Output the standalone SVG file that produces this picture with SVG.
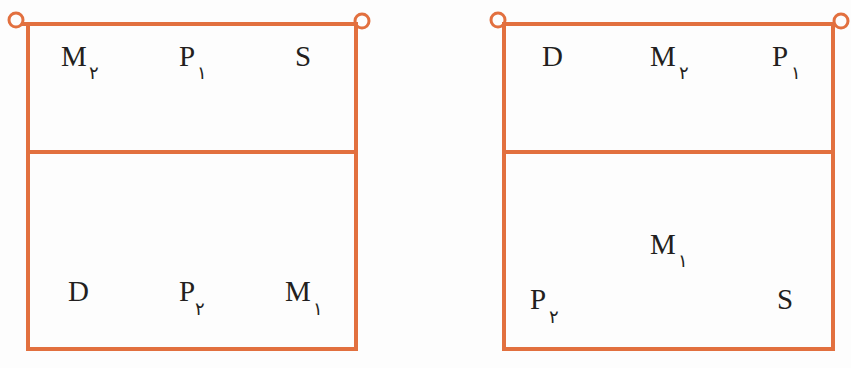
<svg xmlns="http://www.w3.org/2000/svg" width="851" height="368" viewBox="0 0 851 368">
<style>
.ln{fill:none;stroke:#E2703F;stroke-width:4}
.post{fill:none;stroke:#E2703F;stroke-width:3}
.t{font-family:"Liberation Serif","Times New Roman",serif;font-size:29px;fill:#231f20}
.s{font-family:"DejaVu Sans","Noto Sans",sans-serif;font-size:18px;fill:#231f20}
</style>
<rect width="851" height="368" fill="#fdfdfd"/>
<g id="court-left">
<rect class="ln" x="28" y="24" width="328" height="325"/>
<line class="ln" x1="28" y1="152" x2="356" y2="152"/>
<line class="ln" x1="22" y1="24" x2="28" y2="24"/>
<circle class="post" cx="16" cy="20" r="7"/>
<circle class="post" cx="362" cy="21" r="7"/>
</g>
<g id="court-right">
<rect class="ln" x="504" y="24" width="329" height="325"/>
<line class="ln" x1="504" y1="152" x2="833" y2="152"/>
<circle class="post" cx="498" cy="20" r="7"/>
<circle class="post" cx="841" cy="21" r="7"/>
</g>
<g id="left-M2"><text class="t" x="61" y="66">M</text><text class="s" x="89" y="79">۲</text></g>
<g id="left-P1"><text class="t" x="179" y="66">P</text><text class="s" x="197" y="79">۱</text></g>
<g id="left-S"><text class="t" x="295" y="66">S</text></g>
<g id="left-D"><text class="t" x="68" y="301">D</text></g>
<g id="left-P2"><text class="t" x="179" y="301">P</text><text class="s" x="195" y="315">۲</text></g>
<g id="left-M1"><text class="t" x="285" y="301">M</text><text class="s" x="313" y="315">۱</text></g>
<g id="right-D"><text class="t" x="542" y="66">D</text></g>
<g id="right-M2"><text class="t" x="650" y="66">M</text><text class="s" x="679" y="79">۲</text></g>
<g id="right-P1"><text class="t" x="772" y="66">P</text><text class="s" x="791" y="79">۱</text></g>
<g id="right-M1"><text class="t" x="650" y="254">M</text><text class="s" x="678" y="267">۱</text></g>
<g id="right-P2"><text class="t" x="530" y="309">P</text><text class="s" x="549" y="323">۲</text></g>
<g id="right-S"><text class="t" x="777" y="309">S</text></g>
<g id="connectors"></g>
</svg>
